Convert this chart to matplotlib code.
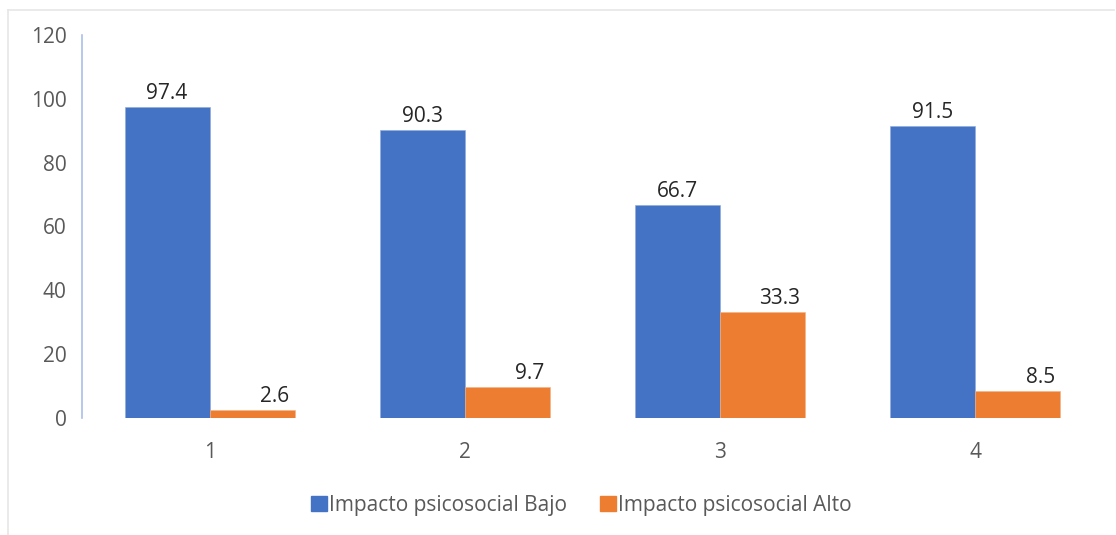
import numpy as np
import matplotlib.pyplot as plt
from matplotlib.lines import Line2D
from matplotlib.patches import Patch

plt.rcParams['font.family'] = ['Open Sans', 'DejaVu Sans']

categories = ['1', '2', '3', '4']
bajo = [97.4, 90.3, 66.7, 91.5]
alto = [2.6, 9.7, 33.3, 8.5]
series_names = ['Impacto psicosocial Bajo', 'Impacto psicosocial Alto']
yticks = [0, 20, 40, 60, 80, 100, 120]

blue = '#4472C4'
orange = '#ED7D31'
fs = 15

fig = plt.figure(figsize=(11.16, 5.35), dpi=100)
ax = fig.add_axes([0.0735, 0.2187, 0.9145, 0.7159])

x = np.arange(1, len(categories) + 1)
w = 1 / 3
ax.bar(x - w / 2, bajo, w, color=blue, edgecolor='#8faadc', linewidth=0.4)
ax.bar(x + w / 2, alto, w, color=orange, edgecolor='#f4b183', linewidth=0.4)

for xi, v in zip(x, bajo):
    ax.text(xi - w / 2, v + 1.0, '%.1f' % v, ha='center', va='bottom',
            fontsize=fs, color='#262626')
for xi, v in zip(x, alto):
    ax.text(xi + w - 0.02, v + 1.0, '%.1f' % v, ha='right', va='bottom',
            fontsize=fs, color='#262626')

ax.set_xlim(0.5, 4.5)
ax.set_ylim(0, 120)
ax.set_yticks(yticks)
ax.set_xticks(x)
ax.set_xticklabels(categories)
ax.tick_params(axis='both', length=0, labelsize=fs, labelcolor='#595959')
ax.tick_params(axis='y', pad=11)
ax.tick_params(axis='x', pad=17)
for s in ['top', 'right', 'bottom']:
    ax.spines[s].set_visible(False)
ax.spines['left'].set_color('#a9c0ea')
ax.spines['left'].set_linewidth(1.2)

handles = [Patch(facecolor=blue, edgecolor=blue), Patch(facecolor=orange, edgecolor=orange)]
fig.legend(handles, series_names, loc='center', bbox_to_anchor=(0.521, 0.055), ncol=2,
           frameon=False, fontsize=fs, labelcolor='#595959',
           handlelength=0.75, handleheight=0.75, handletextpad=0.1, columnspacing=1.6)

# light frame around the chart area
fig.add_artist(Line2D([8 / 1116, 8 / 1116], [0, 1 - 10 / 535], color='#e6e6e6', lw=1.2))
fig.add_artist(Line2D([8 / 1116, 1114 / 1116], [1 - 10 / 535, 1 - 10 / 535], color='#e6e6e6', lw=1.2))

fig.savefig('out.png', dpi=100)
